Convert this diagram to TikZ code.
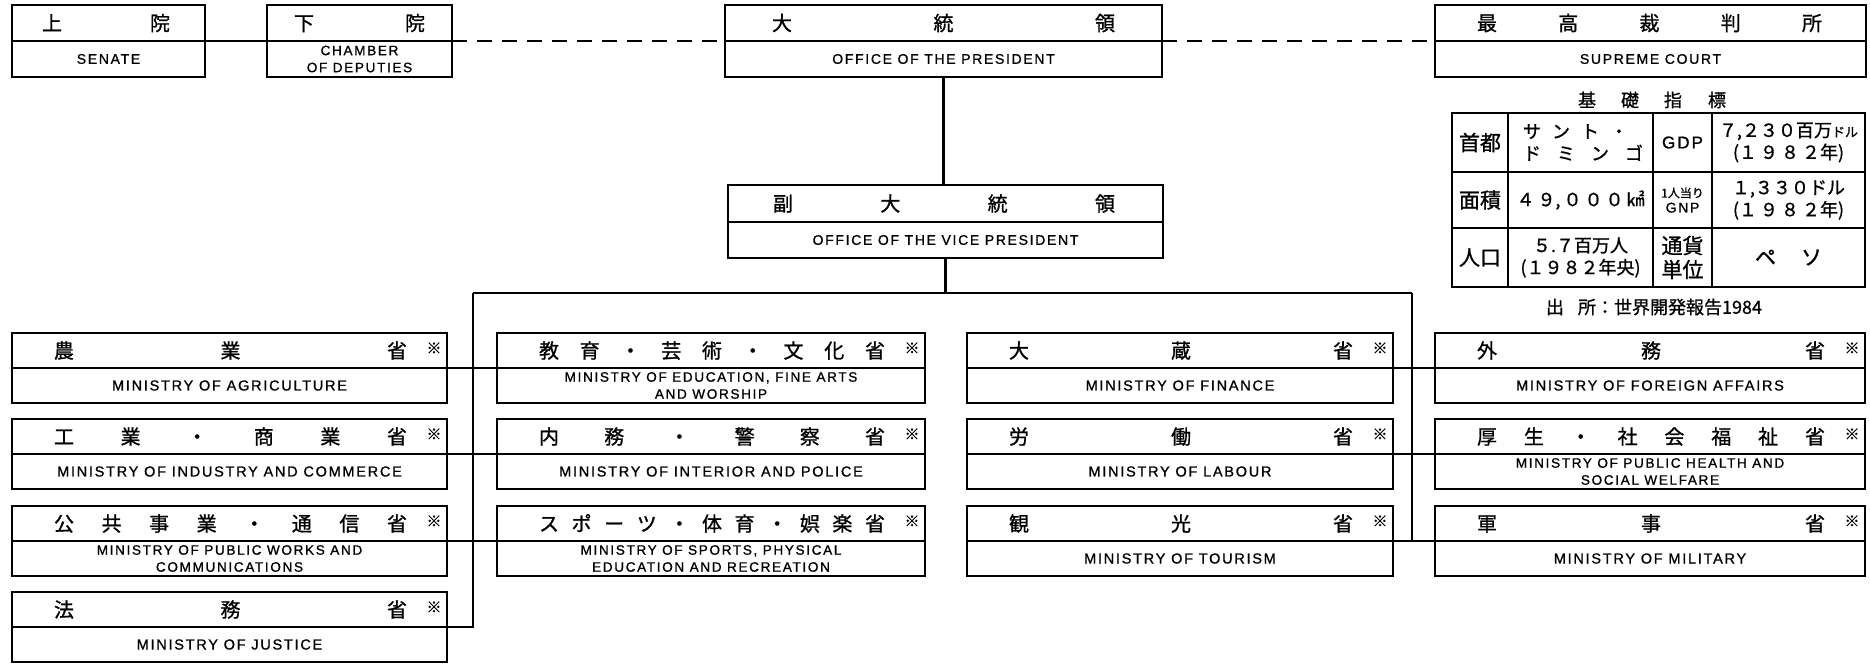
\documentclass[tikz,border=0pt]{standalone}
\usepackage{fontspec}
\newfontfamily\jpf[FakeBold=1]{Noto Sans CJK JP}
\newfontfamily\enf[LetterSpace=12,FakeBold=1]{Liberation Sans}
\usetikzlibrary{fit}
\tikzset{
  box/.style={draw, line width=1.9pt, inner sep=0pt, outer sep=0pt},
  divl/.style={line width=1.2pt},
  conn/.style={line width=2.3pt},
  linkl/.style={line width=1.6pt},
  dashconn/.style={line width=1.8pt, dash pattern=on 15pt off 10pt},
  hd/.style={font={\jpf\fontsize{20}{22}\selectfont}, inner sep=0pt, text height=17.6pt, text depth=2.4pt},
  mk/.style={font={\jpf\fontsize{15}{15}\selectfont}, inner sep=0pt},
  en/.style={font={\enf\fontsize{14.5}{17}\selectfont}, inner sep=0pt, align=center},
  entwo/.style={font={\enf\fontsize{13.6}{17}\selectfont}, inner sep=0pt, align=center},
  entop/.style={font={\enf\fontsize{14}{16}\selectfont}, inner sep=0pt, align=center},
  tb/.style={font={\jpf\fontsize{18}{22}\selectfont}, inner sep=0pt, align=center},
  tbbig/.style={font={\jpf\fontsize{21}{24}\selectfont}, inner sep=0pt, align=center},
  tt/.style={font={\jpf\fontsize{18}{20}\selectfont}, inner sep=0pt, text height=15.8pt, text depth=2.2pt},
  tbl/.style={line width=2.3pt},
  tbin/.style={line width=1.3pt},
}
\newcommand{\hdr}[5]{%
  \foreach \hc [count=\hi] in {#5} {\xdef\hdrn{\hi}}%
  \foreach \hc [count=\hi] in {#5} {%
    \pgfmathsetmacro\hdrx{#3+(\hi-1)*(#4-#3)/(\hdrn-1)}%
    \node[hd] (#1-h\hi) at (\hdrx,#2) {\hc};
  }%
}
\newcommand{\topunit}[9]{%
  \node[box, fit={(#2,#3) (#4,#5)}] (#1) {};
  \draw[divl] (#2,#6) -- (#4,#6);
  \coordinate (#1-dl) at (#2,#6);
  \coordinate (#1-dr) at (#4,#6);
  \pgfmathsetmacro\mzh{(#3+#6)/2}%
  \hdr{#1}{\mzh}{#7}{#8}{#9}%
}
\newcommand{\ministry}[7]{%
  \pgfmathsetmacro\mzb{#3+70}%
  \pgfmathsetmacro\mzd{#3+35}%
  \pgfmathsetmacro\mzh{#3+17.5}%
  \pgfmathsetmacro\mze{#3+52.5}%
  \pgfmathsetmacro\mzf{#2+52}%
  \pgfmathsetmacro\mzl{#4-50}%
  \pgfmathsetmacro\mzx{#4-13}%
  \pgfmathsetmacro\mzy{#3+15}%
  \pgfmathsetmacro\mzc{(#2+#4)/2}%
  \node[box, fit={(#2,#3) (#4,\mzb)}] (#1) {};
  \draw[divl] (#2,\mzd) -- (#4,\mzd);
  \coordinate (#1-dl) at (#2,\mzd);
  \coordinate (#1-dr) at (#4,\mzd);
  \hdr{#1}{\mzh}{\mzf}{\mzl}{#5}%
  \node[mk] (#1-m) at (\mzx,\mzy) {※};
  \node[#6] (#1-en) at (\mzc,\mze) {#7};
}
\begin{document}
\begin{tikzpicture}[x=1pt,y=-1pt]
\useasboundingbox (0,0) rectangle (1870,664);

% top row
\topunit{senate}{12}{5}{205}{77}{41}{52}{160}{上,院}
\node[entop] (senate-en) at (108.5,59) {SENATE};
\topunit{chamber}{267}{5}{452}{77}{41}{304}{415}{下,院}
\node[entwo] (chamber-en) at (359.5,59) {CHAMBER\\OF DEPUTIES};
\topunit{pres}{725}{5}{1162}{77}{41}{782}{1105}{大,統,領}
\node[entop] (pres-en) at (943.5,59) {OFFICE OF THE PRESIDENT};
\topunit{supreme}{1435}{5}{1866}{77}{41}{1487}{1812}{最,高,裁,判,所}
\node[entop] (supreme-en) at (1650.5,59) {SUPREME COURT};
\topunit{vp}{728}{185}{1163}{258}{222}{783}{1105}{副,大,統,領}
\node[entop] (vp-en) at (945.5,240) {OFFICE OF THE VICE PRESIDENT};

% ministries
\ministry{agri}{12}{333}{447}{農,業,省}{en}{MINISTRY OF AGRICULTURE}
\ministry{indu}{12}{419}{447}{工,業,・,商,業,省}{en}{MINISTRY OF INDUSTRY AND COMMERCE}
\ministry{publ}{12}{506}{447}{公,共,事,業,・,通,信,省}{entwo}{MINISTRY OF PUBLIC WORKS AND\\COMMUNICATIONS}
\ministry{just}{12}{592}{447}{法,務,省}{en}{MINISTRY OF JUSTICE}
\ministry{educ}{497}{333}{925}{教,育,・,芸,術,・,文,化,省}{entwo}{MINISTRY OF EDUCATION, FINE ARTS\\AND WORSHIP}
\ministry{inte}{497}{419}{925}{内,務,・,警,察,省}{en}{MINISTRY OF INTERIOR AND POLICE}
\ministry{spor}{497}{506}{925}{ス,ポ,ー,ツ,・,体,育,・,娯,楽,省}{entwo}{MINISTRY OF SPORTS, PHYSICAL\\EDUCATION AND RECREATION}
\ministry{fina}{967}{333}{1393}{大,蔵,省}{en}{MINISTRY OF FINANCE}
\ministry{labo}{967}{419}{1393}{労,働,省}{en}{MINISTRY OF LABOUR}
\ministry{tour}{967}{506}{1393}{観,光,省}{en}{MINISTRY OF TOURISM}
\ministry{fore}{1435}{333}{1865}{外,務,省}{en}{MINISTRY OF FOREIGN AFFAIRS}
\ministry{heal}{1435}{419}{1865}{厚,生,・,社,会,福,祉,省}{entwo}{MINISTRY OF PUBLIC HEALTH AND\\SOCIAL WELFARE}
\ministry{mili}{1435}{506}{1865}{軍,事,省}{en}{MINISTRY OF MILITARY}

% connectors
\coordinate (busL) at (473,293);
\coordinate (busR) at (1412,293);
\draw[linkl] (senate-dr) -- (chamber-dl);
\draw[dashconn] (chamber-dr) -- (pres-dl);
\draw[dashconn] (pres-dr) -- (supreme-dl);
\draw[conn] (pres.south) -- (pres.south |- vp.north);
\draw[conn] (vp.south) -- (vp.south |- busL);
\draw[conn] (busL) -- (busR);
\draw[conn] (busL) -- (busL |- just-dr) -- (just-dr);
\draw[conn] (busR) -- (busR |- tour-dr);
\foreach \n in {agri,indu,publ} \draw[conn] (\n-dr) -- (\n-dr -| busL);
\foreach \n in {educ,inte,spor} \draw[conn] (\n-dl) -- (\n-dl -| busL);
\foreach \n in {fina,labo,tour} \draw[conn] (\n-dr) -- (\n-dr -| busR);
\foreach \n in {fore,heal,mili} \draw[conn] (\n-dl) -- (\n-dl -| busR);

% table of basic indicators
\node[tt] (ti1) at (1587,100) {基};
\node[tt] (ti2) at (1630,100) {礎};
\node[tt] (ti3) at (1673,100) {指};
\node[tt] (ti4) at (1717,100) {標};
\draw[tbl] (1452,113) rectangle (1865,287);
\draw[tbl] (1508,113) -- (1508,287);
\draw[tbl] (1653,113) -- (1653,287);
\draw[tbl] (1712,113) -- (1712,287);
\draw[tbin] (1452,172) -- (1865,172);
\draw[tbin] (1452,228) -- (1865,228);
\node[tbbig] (t11) at (1480,142.5) {首都};
\node[tb, align=left] (t12) at (1583,142.5) {サ\hspace{11pt}ン\hspace{11pt}ト\hspace{11pt}・\\ド\hspace{16pt}ミ\hspace{16pt}ン\hspace{16pt}ゴ};
\node[inner sep=0pt, font={\enf\fontsize{17}{20}\selectfont}] (t13) at (1682.5,142.5) {GDP};
\node[tb] (t14) at (1788.5,142.5) {７,２３０百万{\fontsize{13}{13}\selectfont ドル}\\(１\hspace{3pt}９\hspace{3pt}８\hspace{3pt}２年)};
\node[tbbig] (t21) at (1480,200) {面積};
\node[tb] (t22) at (1580.5,200) {４\,９,\,０\,０\,０\,㎢};
\node[inner sep=0pt, align=center, font={\jpf\fontsize{12}{15}\selectfont}] (t23) at (1682.5,200) {1人当り\\{\enf\fontsize{14}{15}\selectfont GNP}};
\node[tb] (t24) at (1788.5,200) {１,３３０ドル\\(１\hspace{3pt}９\hspace{3pt}８\hspace{3pt}２年)};
\node[tbbig] (t31) at (1480,257.5) {人口};
\node[tb] (t32) at (1580.5,257.5) {５.７百万人\\(１９８２年央)};
\node[tbbig] (t33) at (1682.5,257.5) {通貨\\単位};
\node[tbbig] (t34) at (1788.5,257.5) {ペ\hspace{25pt}ソ};
\node[tt] (src) at (1654,307) {出\hspace{14pt}所：世界開発報告1984};
\end{tikzpicture}
\end{document}
